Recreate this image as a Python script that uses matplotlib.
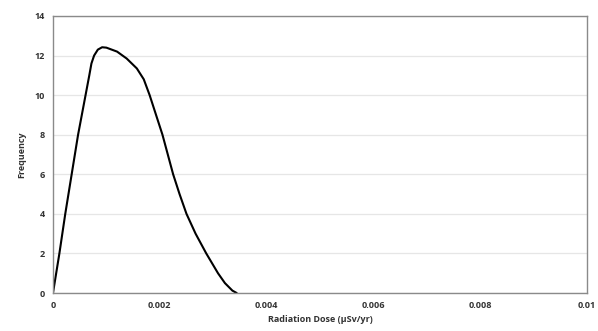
import matplotlib
matplotlib.use("Agg")
import matplotlib.pyplot as plt

dose = [0, 0.00012, 0.00023, 0.00035, 0.00047, 0.00054, 0.00061, 0.00068, 0.00072,
        0.00077, 0.00084, 0.00092, 0.001, 0.0012, 0.00138, 0.00157, 0.0017, 0.00181,
        0.00193, 0.00205, 0.00215, 0.00225, 0.00237, 0.0025, 0.00267, 0.00287, 0.00309,
        0.00322, 0.00336, 0.00344]
freq = [0, 2, 4, 6, 8, 9, 10, 11, 11.6,
        12.0, 12.3, 12.42, 12.4, 12.2, 11.85, 11.35, 10.8, 10.0,
        9.0, 8.0, 7.0, 6.0, 5.0, 4.0, 3.0, 2.0, 1.0,
        0.5, 0.12, 0]

x_ticks = [0, 0.002, 0.004, 0.006, 0.008, 0.01]
x_tick_labels = ["0", "0.002", "0.004", "0.006", "0.008", "0.01"]
y_ticks = [0, 2, 4, 6, 8, 10, 12, 14]

plt.rcParams['font.family'] = ['Open Sans', 'DejaVu Sans']

fig = plt.figure(figsize=(5.98, 3.31), dpi=100)
ax = fig.add_axes([0.0886, 0.1148, 0.8930, 0.8369])

ax.plot(dose, freq, color='black', linewidth=1.5, solid_joinstyle='round',
        solid_capstyle='round')

ax.set_xlim(0, 0.01)
ax.set_ylim(0, 14)
ax.set_xticks(x_ticks)
ax.set_xticklabels(x_tick_labels)
ax.set_yticks(y_ticks)
ax.grid(axis='y', color='#e6e6e6', linewidth=0.9)
ax.set_axisbelow(True)
for s in ax.spines.values():
    s.set_color('#8a8a8a')
    s.set_linewidth(1.0)
ax.tick_params(length=0, labelsize=6.5, pad=6, colors='#333333')
for lab in ax.get_xticklabels() + ax.get_yticklabels():
    lab.set_fontweight('bold')

ax.set_xlabel("Radiation Dose (\u03bcSv/yr)", fontsize=6.5, fontweight='bold', color='#333333', labelpad=3)
ax.set_ylabel("Frequency", fontsize=6.5, fontweight='bold', color='#333333', labelpad=6)

fig.savefig("out.png", dpi=100, facecolor='white')
